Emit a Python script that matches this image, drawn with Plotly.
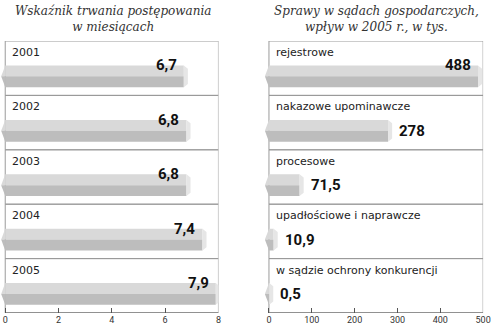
import plotly.graph_objects as go

# ---- data ----
left_title = ["Wskaźnik trwania postępowania", "w miesiącach"]
left_cats = ["2001", "2002", "2003", "2004", "2005"]
left_vals = [6.7, 6.8, 6.8, 7.4, 7.9]
left_ticks = [0, 2, 4, 6, 8]

right_title = ["Sprawy w sądach gospodarczych,", "wpływ w 2005 r., w tys."]
right_cats = ["rejestrowe", "nakazowe upominawcze", "procesowe",
              "upadłościowe i naprawcze", "w sądzie ochrony konkurencji"]
right_vals = [488, 278, 71.5, 10.9, 0.5]
right_ticks = [0, 100, 200, 300, 400, 500]

TOP_C = "#d9d9d9"
BOT_C = "#bdbdbd"
CAP_C = "#e6e6e6"
FRAME_C = "#9a9a9a"
AXIS_C = "#555555"

fig = go.Figure()

def fmt(v):
    return f"{v:g}".replace(".", ",")

def panel(cats, vals, ticks, xa, ya, title, xdom, label_family):
    xmax = ticks[-1]
    d = xmax * 0.019  # chevron depth in data units (~4px)
    n = len(cats)
    idx = list(range(n))
    off_top, off_mid, off_bot = -0.05, 0.15, 0.35
    # bar faces
    fig.add_trace(go.Bar(x=vals, y=idx, orientation="h", base=0,
                         offset=off_top, width=off_mid - off_top,
                         marker=dict(color=TOP_C, line_width=0),
                         xaxis=xa, yaxis=ya, hoverinfo="skip", showlegend=False))
    fig.add_trace(go.Bar(x=vals, y=idx, orientation="h", base=0,
                         offset=off_mid, width=off_bot - off_mid,
                         marker=dict(color=BOT_C, line_width=0),
                         xaxis=xa, yaxis=ya, hoverinfo="skip", showlegend=False))
    for i, v in zip(idx, vals):
        t, m, b = i + off_top, i + off_mid, i + off_bot
        # left chevron tip
        fig.add_trace(go.Scatter(x=[-d, 0, 0, -d], y=[m, t, m, m], fill="toself",
                                 fillcolor=TOP_C, mode="lines", line_width=0,
                                 xaxis=xa, yaxis=ya, hoverinfo="skip", showlegend=False))
        fig.add_trace(go.Scatter(x=[-d, 0, 0, -d], y=[m, b, m, m], fill="toself",
                                 fillcolor=BOT_C, mode="lines", line_width=0,
                                 xaxis=xa, yaxis=ya, hoverinfo="skip", showlegend=False))
        # right cap
        fig.add_trace(go.Scatter(x=[v, v + d, v + d, v, v], y=[t, t + 0.06, b - 0.06, b, t],
                                 fill="toself", fillcolor=CAP_C, mode="lines", line_width=0,
                                 xaxis=xa, yaxis=ya, hoverinfo="skip", showlegend=False))
    xref = "x" if xa == "x" else "x2"
    yref = "y" if ya == "y" else "y2"
    # frames
    for i in idx:
        fig.add_shape(type="rect", xref=xref, yref=yref, x0=0, x1=xmax,
                      y0=i - 0.5, y1=i + 0.5, line=dict(color=FRAME_C, width=1),
                      layer="below")
    fig.add_shape(type="line", xref=xref, yref=yref, x0=0, x1=xmax,
                  y0=n - 0.5, y1=n - 0.5, line=dict(color=AXIS_C, width=1))
    # labels
    for i, c, v in zip(idx, cats, vals):
        fig.add_annotation(x=0, y=i - 0.29, xref=xref, yref=yref, text=c,
                           showarrow=False, xanchor="left", yanchor="middle", xshift=5,
                           font=dict(family=label_family, size=11, color="#222"))
        if v / xmax > 0.7:
            fig.add_annotation(x=v, y=i + off_top, xref=xref, yref=yref, text="<b>%s</b>" % fmt(v),
                               showarrow=False, xanchor="right", yanchor="middle", xshift=-5,
                               font=dict(family="Roboto", size=15, color="#111"))
        else:
            fig.add_annotation(x=v, y=i + off_mid, xref=xref, yref=yref, text="<b>%s</b>" % fmt(v),
                               showarrow=False, xanchor="left", yanchor="middle", xshift=9,
                               font=dict(family="Roboto", size=15, color="#111"))
    cx = (xdom[0] + xdom[1]) / 2 + 0.006
    fig.add_annotation(x=cx, y=1 - 19 / 332, xref="paper", yref="paper",
                       text="<i>%s</i>" % "<br>".join(title), showarrow=False,
                       xanchor="center", yanchor="middle", align="center",
                       font=dict(family="DejaVu Serif", size=12, color="#333"))
    return d

xdomL = [1 / 500, 222 / 500]
xdomR = [269 / 500, 491 / 500]
ydom = [19 / 332, 291 / 332]

dL = panel(left_cats, left_vals, left_ticks, "x", "y", left_title, xdomL, "DejaVu Sans")
dR = panel(right_cats, right_vals, right_ticks, "x2", "y2", right_title, xdomR, "DejaVu Sans")

axis_common = dict(showgrid=False, zeroline=False, showline=False, ticks="inside",
                   ticklen=5, tickcolor=AXIS_C, tickwidth=1,
                   tickfont=dict(family="Roboto", size=9, color="#333"), fixedrange=True)

fig.update_layout(
    width=500, height=332, margin=dict(l=0, r=0, t=0, b=0),
    paper_bgcolor="white", plot_bgcolor="white", barmode="overlay",
    showlegend=False,
    xaxis=dict(domain=xdomL, range=[-dL * 1.05, left_ticks[-1]], tickvals=left_ticks,
               anchor="y", **axis_common),
    xaxis2=dict(domain=xdomR, range=[-dR * 1.05, right_ticks[-1]], tickvals=right_ticks,
                anchor="y2", **axis_common),
    yaxis=dict(domain=ydom, range=[len(left_cats) - 0.5, -0.5], visible=False,
               anchor="x", fixedrange=True),
    yaxis2=dict(domain=ydom, range=[len(right_cats) - 0.5, -0.5], visible=False,
                anchor="x2", fixedrange=True),
)

fig.write_html("out.html")
